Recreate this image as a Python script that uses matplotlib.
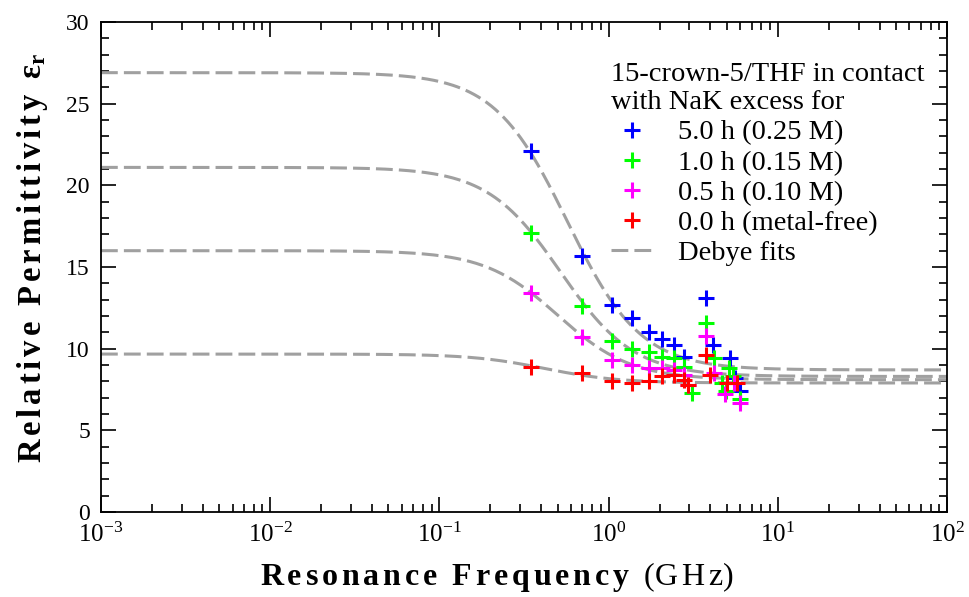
import numpy as np
import matplotlib
matplotlib.use('Agg')
import matplotlib.pyplot as plt
from matplotlib.ticker import LogLocator, MultipleLocator, NullFormatter
from matplotlib.lines import Line2D

plt.rcParams['font.family'] = ['Liberation Serif', 'DejaVu Serif']
plt.rcParams['mathtext.fontset'] = 'custom'
plt.rcParams['mathtext.rm'] = 'Liberation Serif'
plt.rcParams['mathtext.it'] = 'Liberation Serif:italic'
plt.rcParams['mathtext.bf'] = 'Liberation Serif:bold'

# measured points (GHz, relative permittivity)
f_blue = [0.35, 0.70, 1.05, 1.38, 1.73, 2.07, 2.43, 2.78, 3.79, 4.16, 5.25, 5.6, 6.0]
e_blue = [22.1, 15.7, 12.7, 11.9, 11.0, 10.6, 10.2, 9.5, 13.1, 10.2, 9.4, 8.2, 7.4]

f_green = [0.35, 0.70, 1.05, 1.38, 1.73, 2.07, 2.43, 2.78, 3.13, 3.79, 4.2, 4.7, 4.95, 5.13, 5.4, 6.0]
e_green = [17.1, 12.6, 10.5, 10.0, 9.8, 9.5, 9.4, 8.9, 7.3, 11.6, 9.4, 7.9, 7.4, 8.8, 8.3, 6.9]

f_magenta = [0.35, 0.70, 1.05, 1.38, 1.73, 2.07, 2.43, 2.78, 2.93, 3.79, 4.2, 4.9, 5.5, 6.0]
e_magenta = [13.4, 10.7, 9.3, 9.0, 8.8, 8.8, 8.7, 8.4, 7.8, 10.8, 8.5, 7.2, 7.9, 6.7]

f_red = [0.35, 0.70, 1.05, 1.38, 1.73, 2.07, 2.43, 2.78, 2.93, 3.75, 4.0, 5.0, 5.75]
e_red = [8.9, 8.5, 8.0, 7.9, 8.0, 8.3, 8.4, 8.1, 7.8, 9.6, 8.4, 7.9, 7.9]

# Debye fit parameters: static, high-frequency permittivity, relaxation freq (GHz)
eps_s = [26.9, 21.1, 16.0, 9.67]
eps_inf = [8.7, 8.3, 8.1, 7.9]
f_relax = [0.57, 0.52, 0.50, 0.42]

labels = ['5.0 h (0.25 M)', '1.0 h (0.15 M)', '0.5 h (0.10 M)', '0.0 h (metal-free)']
colors = ['#0000ff', '#00ff00', '#ff00ff', '#ff0000']


def spaced(word):
    # letter-spaced text for mathtext
    return r'\,'.join('\\ ' if ch == ' ' else ch for ch in word)


fig = plt.figure(figsize=(9.69, 5.97), dpi=100)
ax = fig.add_axes([0.1042, 0.1424, 0.8731, 0.8207])

f_fit = np.logspace(-3, 2, 400)
for es, ei, fr in zip(eps_s, eps_inf, f_relax):
    ax.plot(f_fit, ei + (es - ei) / (1 + (f_fit / fr) ** 2), color='#a0a0a0',
            lw=2.2, dashes=(5.5, 2))

for f, e, c in zip([f_blue, f_green, f_magenta, f_red],
                   [e_blue, e_green, e_magenta, e_red], colors):
    ax.plot(f, e, '+', color=c, ms=12, mew=2.2, ls='none')

ax.set_xscale('log')
ax.set_xlim(1e-3, 1e2)
ax.set_ylim(0, 30)
ax.xaxis.set_major_locator(LogLocator(base=10, numticks=10))
ax.xaxis.set_minor_locator(LogLocator(base=10, subs=np.arange(2, 10), numticks=20))
ax.xaxis.set_minor_formatter(NullFormatter())
ax.yaxis.set_major_locator(MultipleLocator(5))
ax.yaxis.set_minor_locator(MultipleLocator(1))
ax.tick_params(which='both', direction='in', top=True, right=True, width=1.2)
ax.tick_params(axis='x', labelsize=18)
ax.tick_params(axis='y', labelsize=17)
ax.tick_params(which='major', length=11, pad=8)
ax.tick_params(which='minor', length=6)
for s in ax.spines.values():
    s.set_linewidth(1.3)

ax.set_xlabel(r'$\mathbf{' + spaced('Resonance Frequency') + r'}\ \ \mathrm{(' + spaced('GHz') + ')}$',
              fontsize=23)
ax.set_ylabel(r'$\mathbf{' + spaced('Relative Permittivity') + r'\ \ ε_r}$',
              fontsize=23.5)
ax.xaxis.set_label_coords(0.468, -0.097)
ax.yaxis.set_label_coords(-0.06, 0.52)

handles = [Line2D([], [], marker='+', color=c, ls='none', ms=12, mew=2.2) for c in colors]
handles.append(Line2D([], [], color='#a0a0a0', lw=2.2, dashes=(5.5, 2)))
leg = ax.legend(handles, labels + ['Debye fits'],
                title='15-crown-5/THF in contact\nwith NaK excess for',
                loc='upper right', bbox_to_anchor=(0.997, 0.96), frameon=False,
                fontsize=20.5, title_fontsize=20.5, handlelength=1.5, handletextpad=0.85,
                labelspacing=0.15, borderpad=0.2)
leg._legend_box.align = 'left'

fig.savefig('out.png', dpi=100)
